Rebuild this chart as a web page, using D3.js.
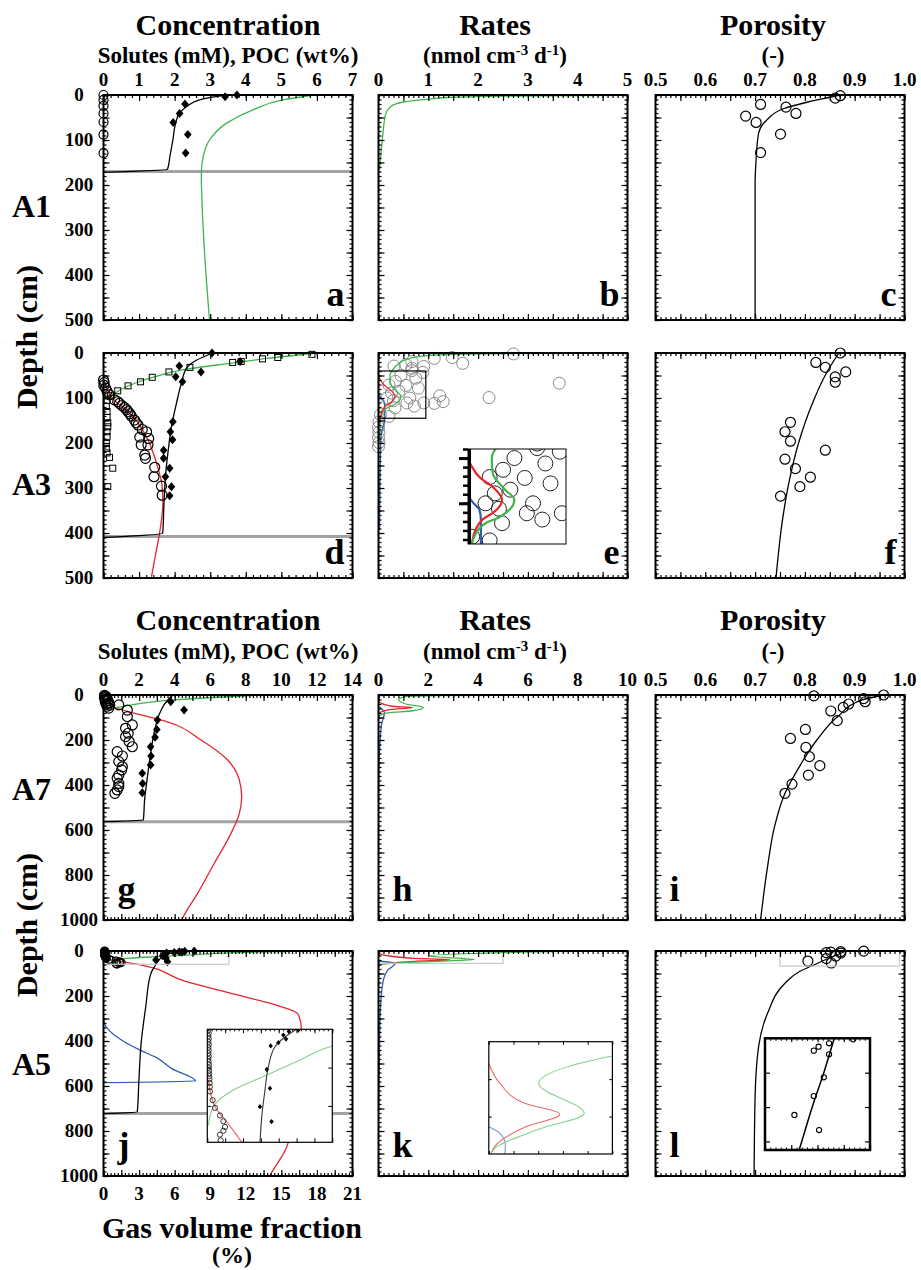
<!DOCTYPE html>
<html>
<head>
<meta charset="utf-8">
<script src="https://cdn.jsdelivr.net/npm/d3@7"></script>
<style>
  body { margin: 0; background: #fff; }
</style>
</head>
<body>
<script>
// values, every point is [x value, depth (cm)]

// ---- tick labels ----
var concTicks7 = [0, 1, 2, 3, 4, 5, 6, 7];
var concTicks14 = [0, 2, 4, 6, 8, 10, 12, 14];
var gasTicks21 = [0, 3, 6, 9, 12, 15, 18, 21];
var ratesTicks5 = [0, 1, 2, 3, 4, 5];
var ratesTicks10 = [0, 2, 4, 6, 8, 10];
var poroTicks = [0.5, 0.6, 0.7, 0.8, 0.9, 1.0];
var depthTicks500 = [0, 100, 200, 300, 400, 500];
var depthTicks1000 = [0, 200, 400, 600, 800, 1000];

// ---- site A1 ----
var a1Circles = [[0,0],[0,11],[0,24],[0,41],[0,60],[0,88],[0,129]];
var a1Diamonds = [[3.75,0],[3.42,4],[2.29,20],[2.14,41],[1.96,61],[2.37,88],[2.31,129]];
var a1Black = [[3.45,1],[3.2,3],[2.7,11],[2.35,25],[2.14,40],[2.02,65],[1.95,100],[1.87,135],[1.8,165],[0,172]];
var a1Green = [[5.93,0],[5.04,11],[4.2,33],[3.45,63],[2.98,100],[2.8,138],[2.75,175],[2.81,308],[2.98,500]];
var a1Smtz = 170;
var a1RateGreen = [[5,0.5],[2.5,2.5],[1.5,5],[1.02,9],[0.52,15],[0.24,26],[0.14,44],[0.09,85],[0.05,129],[0.02,167]];
var a1PoroLine = [[0.87,0],[0.85,5],[0.808,15],[0.758,30],[0.723,56],[0.707,85],[0.702,144],[0.7,200],[0.7,500]];
var a1PoroCircles = [[0.871,1.5],[0.861,7],[0.711,21],[0.762,27],[0.782,41],[0.681,47],[0.702,61],[0.751,87],[0.711,128]];

// ---- site A3 ----
var a3Squares = [[5.86,3],[4.9,10],[4.47,13],[3.87,19],[3.63,21],[2.43,32],[1.84,42],[1.37,54],[1.04,64],[0.69,73],
  [0.4,84],[0.2,95],[0.1,105],[0.08,119],[0.1,130],[0.1,143],[0.12,155],[0.12,164],[0.1,175],[0.1,186],[0.08,201],
  [0.08,212],[0.1,222],[0.17,232],[0.26,256],[0.12,297]];
var a3Circles = [[0,60],[0.02,66],[0.01,72],[0.06,78],[0.1,85],[0.17,93],[0.31,104],[0.4,108],[0.45,112],[0.52,117],
  [0.59,121],[0.65,126],[0.69,130],[0.74,135],[0.78,140],[0.87,149],[0.92,155],[0.97,160],[1.09,170],[1.21,175],
  [1.02,187],[1.27,190],[1.06,204],[1.25,204],[1.16,227],[1.18,234],[1.44,254],[1.42,275],[1.63,296],[1.65,316]];
var a3Diamonds = [[3.05,0],[3.84,19],[2.13,29],[2.74,42],[2.03,53],[2.22,64],[1.95,153],[1.88,175],[1.94,193],
  [1.69,216],[1.69,234],[1.86,256],[1.74,275],[1.91,297],[1.86,317]];
var a3Black = [[3.08,0],[2.61,16],[2.33,34],[2.19,67],[2.05,112],[1.91,164],[1.82,216],[1.75,267],[1.7,334],[1.67,393],[1.66,401],[0,410]];
var a3Red = [[0,60],[0.26,101],[0.83,141],[1.25,193],[1.49,245],[1.65,297],[1.67,334],[1.63,371],[1.56,408],[1.47,445],[1.35,497]];
var a3Green = [[6.0,0],[4.59,12],[3.65,22],[2.33,36],[1.3,56],[0.64,75],[0.17,97],[0.03,104]];
var a3Smtz = 408;
var a3RateCircles = [[0.31,29],[0.67,19],[1.12,12],[1.48,10],[1.69,23],[2.71,2],[3.63,67],[2.22,99],[1.23,95],
  [1.12,112],[1.3,108],[0.67,34],[0.91,30],[0.55,26],
  [0.45,50],[0.75,56],[0.89,43],[0.67,39],[0.34,63],[0.21,71],[0.41,85],[0.26,89],[0.17,100],[0.63,100],
  [0.57,111],[0.72,118],[0.91,111],[0.33,122],[0.21,141],[0.04,137],[0.8,78],[0.55,72],[0.3,106],
  [0.01,153],[0,165],[0.01,176],[0,188],[0.01,199],[0,208]];
var a3RateGreen = [[5,0.3],[2.7,1.5],[1.23,4],[0.75,9],[0.52,16],[0.38,26],[0.3,35],[0.23,50],[0.24,67],[0.36,85],
  [0.45,96],[0.31,115],[0.17,122],[0.07,135],[0.04,144],[0.03,171],[0.01,200]];
var a3RateRed = [[0,52],[0.04,60],[0.11,71],[0.24,82],[0.33,96],[0.26,109],[0.14,118],[0.07,130],[0.04,143],[0.01,160]];
var a3RateBlue = [[0,92],[0.055,100],[0.11,107],[0.125,118],[0.125,144],[0.05,186],[0.03,282],[0.02,393]];
var a3PoroLine = [[0.868,0],[0.843,45],[0.815,112],[0.787,201],[0.769,282],[0.755,371],[0.742,500]];
var a3PoroCircles = [[0.871,0],[0.822,21],[0.841,32],[0.882,42],[0.861,53],[0.861,65],[0.771,154],[0.76,175],
  [0.771,196],[0.841,216],[0.76,236],[0.781,257],[0.811,276],[0.79,297],[0.751,318]];

// ---- site A7 ----
var a7Circles = [[0.05,2],[0.1,5],[0.15,8],[0.05,12],[0.2,15],[0.1,20],[0.25,25],[0.1,30],[0.3,35],[0.15,40],
  [0.35,45],[0.2,50],[0.3,58],[0.86,44],[1.34,67],[1.34,96],[1.62,133],[1.24,148],[1.39,170],[1.24,185],
  [1.44,207],[1.62,230],[0.77,252],[1.06,271],[0.86,296],[1.06,319],[1.02,333],[0.86,356],[0.77,370],
  [0.86,393],[0.86,407],[0.77,422],[0.64,437]];
var a7Diamonds = [[3.78,30],[4.53,67],[3.03,111],[3.0,153],[2.9,188],[2.65,230],[2.67,271],[2.65,311],[2.18,348],[2.2,393],[2.18,434]];
var a7Black = [[3.88,0],[3.4,44],[3.12,89],[2.84,170],[2.65,259],[2.47,363],[2.31,467],[2.24,556],[0,563]];
var a7Red = [[0,40],[1.71,81],[3.59,119],[5.48,200],[6.98,289],[7.64,378],[7.77,452],[7.64,526],[7.17,615],[6.23,748],[5.29,882],[4.44,993],[4.4,1000]];
var a7Green = [[8.86,0],[3.97,22],[0.4,59],[0.1,62]];
var a7Smtz = 563;
var a7RateGreen = [[10,0.3],[2.5,3],[1.09,7],[0.81,19],[1.09,40],[1.8,55],[1.37,70],[0.39,79],[0.07,89],[0,100]];
var a7RateRed = [[0,30],[0.53,50],[1.37,56],[0.53,64],[0,81]];
var a7RateBlue = [[0,50],[0.24,79],[0.13,126],[0.07,200],[0.02,319],[0,467]];
var a7PoroLine = [[0.958,0],[0.915,22],[0.866,96],[0.824,200],[0.789,318],[0.76,437],[0.739,585],[0.725,763],[0.711,1000]];
var a7PoroCircles = [[0.818,4],[0.958,0],[0.918,16],[0.921,30],[0.888,40],[0.877,55],[0.852,71],[0.865,114],
  [0.801,153],[0.771,193],[0.802,233],[0.809,274],[0.83,314],[0.807,356],[0.774,396],[0.76,437]];

// ---- site A5 ----
var a5Circles = [[0.06,0.5],[0.08,2],[0.06,3.5],[0.08,5],[0.06,6.5],[0.08,8],[0.06,9.5],[0.08,11],[0.06,12.5],
  [0.08,14],[0.06,15.5],[0.08,17],[0.09,18.5],[0.08,20],[0.1,21.5],[0.1,23],[0.11,24.5],[0.12,26],[0.13,28],
  [0.14,30],[0.15,32.5],[0.3,37],[0.43,41],[0.71,45],[0.9,48],[0.99,51],[0.9,53],[0.71,55],[0.75,58]];
var a5Diamonds = [[5.1,0.4],[4.57,1.2],[4.26,3.0],[4.41,5.1],[3.98,7.0],[3.55,8.7],[3.33,20.9],[3.51,30.8],[2.95,40.4],[3.6,48.2]];
var a5Black = [[5.0,0],[4.37,3.9],[3.79,9.1],[3.42,19.5],[3.23,31.7],[3.05,45.6],[2.95,59],[2.65,103],[2.37,251],[2.13,398],[1.99,575],[1.9,715],[0,723]];
var a5Green = [[13.5,0.2],[10,3],[7.0,8.7],[5.19,16],[3.33,23.9],[1.46,31.7],[0.34,40.4],[0.06,50]];
var a5Red = [[0.06,26.5],[0.43,40.4],[1.08,48.2],[1.93,59],[4.53,133],[7.36,192],[9.81,243],[10.93,280],[11.12,339],[10.37,855],[9.43,988],[9.35,1000]];
var a5Gas = [[0,302],[0.15,330],[3.13,442],[4.4,472],[5.76,523],[7.78,578],[0,585]];
var a5Smtz = 722;
var a5RateGreen = [[10,0.3],[7,3],[5,7.6],[2.02,22.3],[3.86,38.3],[2.02,46.8],[0.24,57],[0.1,59.7],[0,70]];
var a5RateRed = [[0,11.5],[0.45,22.3],[1.45,32.9],[2.87,38.7],[1.45,45.7],[0.1,59.3],[0,70]];
var a5RateBlue = [[0,45.5],[0.45,49],[0.67,55],[0.6,65],[0.38,84],[0.17,143],[0.07,276],[0.03,497],[0.01,700]];
var a5PoroLine = [[0.882,0],[0.862,20],[0.84,40],[0.82,60],[0.79,90],[0.76,143],[0.725,277],[0.707,425],[0.7,647],[0.698,1000]];
var a5PoroCircles = [[0.918,0.6],[0.872,2.9],[0.852,4.9],[0.843,7.2],[0.872,9.3],[0.862,22.7],[0.843,33.6],[0.806,44.6],[0.853,53.4]];

// ---------------------------------------------------------------
var FONT = "'Liberation Serif', 'Times New Roman', serif";
var GREEN = "#3db54a", RED = "#e4262c", BLUE = "#2e5db0", GREY = "#a3a3a3";
var LGREEN = "#86d08a", LRED = "#ee6a6a", LBLUE = "#7b9be0";

var W = 249, H = 225;
var colX = [103.5, 378.5, 655.5];
var rowY = [95, 353, 695, 951];

var svg = d3.select("body").append("svg")
    .attr("width", 921).attr("height", 1270)
    .style("font-family", FONT).style("font-weight", "bold");

// evenly spaced tick positions
function steps(lo, hi, step) {
  return d3.range(0, Math.round((hi - lo) / step) + 1).map(function (i) { return lo + i * step; });
}

function tickSet(g, axis, scale, values, len, tr, sw) {
  g.append("g").attr("transform", "translate(" + tr + ")")
    .call(axis(scale).tickValues(values).tickSize(-len).tickFormat(""))
    .call(function (s) { s.select(".domain").remove(); })
    .selectAll("line").attr("stroke", "#000").attr("stroke-width", sw || 1.2);
}

function panel(col, row, xDom, yDom, xStep, yStep) {
  var x = d3.scaleLinear().domain(xDom).range([colX[col], colX[col] + W]);
  var y = d3.scaleLinear().domain(yDom).range([rowY[row], rowY[row] + H]);
  return { g: svg.append("g"), x: x, y: y, xStep: xStep, yStep: yStep };
}

// frame with inward major + minor ticks on all four sides
function finish(p) {
  var xr = p.x.range(), yr = p.y.range(), xd = p.x.domain(), yd = p.y.domain();
  var f = p.g.append("g");
  var xMaj = steps(xd[0], xd[1], p.xStep[0]), xMin = steps(xd[0], xd[1], p.xStep[1]);
  var yMaj = steps(yd[0], yd[1], p.yStep[0]), yMin = steps(yd[0], yd[1], p.yStep[1]);
  [[xMin, 3], [xMaj, 6]].forEach(function (t) {
    tickSet(f, d3.axisTop, p.x, t[0], t[1], "0," + yr[0]);
    tickSet(f, d3.axisBottom, p.x, t[0], t[1], "0," + yr[1]);
  });
  [[yMin, 3], [yMaj, 6]].forEach(function (t) {
    tickSet(f, d3.axisLeft, p.y, t[0], t[1], xr[0] + ",0");
    tickSet(f, d3.axisRight, p.y, t[0], t[1], xr[1] + ",0");
  });
  f.append("rect").attr("x", xr[0]).attr("y", yr[0])
    .attr("width", xr[1] - xr[0]).attr("height", yr[1] - yr[0])
    .attr("fill", "none").attr("stroke", "#000").attr("stroke-width", 2);
}

function topLabels(p, vals, fmt) {
  p.g.append("g").selectAll("text").data(vals).join("text")
    .attr("x", function (d) { return p.x(d); })
    .attr("y", p.y.range()[0] - 9)
    .attr("text-anchor", "middle").attr("font-size", 19)
    .text(fmt || function (d) { return d; });
}

function leftLabels(p, vals) {
  p.g.append("g").selectAll("text").data(vals).join("text")
    .attr("x", 79).attr("y", function (d) { return p.y(d) + 6; })
    .attr("text-anchor", "middle").attr("font-size", 19)
    .text(function (d) { return d; });
}

function letter(p, txt, where) {
  var xr = p.x.range(), yr = p.y.range();
  p.g.append("text")
    .attr("x", where === "right" ? xr[1] - 8 : xr[0] + 14)
    .attr("y", yr[1] - (where === "right" ? 14 : 19))
    .attr("text-anchor", where === "right" ? "end" : "start")
    .attr("font-size", 36).text(txt);
}

function line(g, x, y, data, color, w) {
  g.append("path").datum(data)
    .attr("fill", "none").attr("stroke", color).attr("stroke-width", w || 1.3)
    .attr("d", d3.line().x(function (d) { return x(d[0]); }).y(function (d) { return y(d[1]); })
      .curve(d3.curveMonotoneY));
}

function smtz(p, depth) {
  var xd = p.x.domain();
  p.g.append("line")
    .attr("x1", p.x(xd[0])).attr("x2", p.x(xd[1]))
    .attr("y1", p.y(depth)).attr("y2", p.y(depth))
    .attr("stroke", GREY).attr("stroke-width", 3);
}

function circles(g, x, y, data, r, color, w) {
  g.append("g").selectAll("circle").data(data).join("circle")
    .attr("cx", function (d) { return x(d[0]); })
    .attr("cy", function (d) { return y(d[1]); })
    .attr("r", r).attr("fill", "none")
    .attr("stroke", color || "#000").attr("stroke-width", w || 1.2);
}

function diamonds(g, x, y, data, s) {
  g.append("g").selectAll("path").data(data).join("path")
    .attr("transform", function (d) { return "translate(" + x(d[0]) + "," + y(d[1]) + ")"; })
    .attr("d", "M0," + (-s) + "L" + (s * 0.85) + ",0L0," + s + "L" + (-s * 0.85) + ",0Z")
    .attr("fill", "#000");
}

function squares(g, x, y, data, s) {
  g.append("g").selectAll("rect").data(data).join("rect")
    .attr("x", function (d) { return x(d[0]) - s / 2; })
    .attr("y", function (d) { return y(d[1]) - s / 2; })
    .attr("width", s).attr("height", s)
    .attr("fill", "none").attr("stroke", "#000").attr("stroke-width", 1);
}

function zoomRect(p, xs, ds, color) {
  p.g.append("rect")
    .attr("x", p.x(xs[0])).attr("y", p.y(ds[0]))
    .attr("width", p.x(xs[1]) - p.x(xs[0])).attr("height", p.y(ds[1]) - p.y(ds[0]))
    .attr("fill", "none").attr("stroke", color).attr("stroke-width", 1.2);
}

// magnified view drawn in its own box
function inset(id, box, xDom, yDom) {
  var x = d3.scaleLinear().domain(xDom).range([box[0], box[2]]);
  var y = d3.scaleLinear().domain(yDom).range([box[1], box[3]]);
  var g = svg.append("g");
  g.append("clipPath").attr("id", id).append("rect")
    .attr("x", box[0]).attr("y", box[1]).attr("width", box[2] - box[0]).attr("height", box[3] - box[1]);
  g.append("rect").attr("x", box[0]).attr("y", box[1])
    .attr("width", box[2] - box[0]).attr("height", box[3] - box[1]).attr("fill", "#fff");
  var c = g.append("g").attr("clip-path", "url(#" + id + ")");
  return { g: g, c: c, x: x, y: y, box: box };
}

function insetFrame(n, sw) {
  var b = n.box;
  n.g.append("rect").attr("x", b[0]).attr("y", b[1])
    .attr("width", b[2] - b[0]).attr("height", b[3] - b[1])
    .attr("fill", "none").attr("stroke", "#000").attr("stroke-width", sw);
}

// ================= titles =================
function title(x, y, txt, size) {
  return svg.append("text").attr("x", x).attr("y", y)
    .attr("text-anchor", "middle").attr("font-size", size).text(txt);
}
function ratesUnit(x, y) {
  var t = svg.append("text").attr("x", x).attr("y", y).attr("text-anchor", "middle").attr("font-size", 23);
  t.append("tspan").text("(nmol cm");
  t.append("tspan").attr("dy", -8).attr("font-size", 15).text("-3");
  t.append("tspan").attr("dy", 8).text(" d");
  t.append("tspan").attr("dy", -8).attr("font-size", 15).text("-1");
  t.append("tspan").attr("dy", 8).text(")");
}
[[35, 63], [630, 659]].forEach(function (r) {
  title(228, r[0], "Concentration", 30);
  title(228, r[1], "Solutes (mM), POC (wt%)", 23);
  title(495, r[0], "Rates", 30);
  ratesUnit(495, r[1]);
  title(773, r[0], "Porosity", 30);
  title(773, r[1], "(-)", 23);
});

[["A1", 217], ["A3", 495], ["A7", 800], ["A5", 1075]].forEach(function (r) {
  svg.append("text").attr("x", 12).attr("y", r[1]).attr("font-size", 32).text(r[0]);
});
[337, 925].forEach(function (cy) {
  svg.append("text").attr("transform", "translate(37," + cy + ") rotate(-90)")
    .attr("text-anchor", "middle").attr("font-size", 30).text("Depth (cm)");
});
title(232, 1238, "Gas volume fraction", 30);
title(232, 1263, "(%)", 24);

// ================= A1 =================
var pa = panel(0, 0, [0, 7], [0, 500], [1, 0.2], [50, 10]);
smtz(pa, a1Smtz);
line(pa.g, pa.x, pa.y, a1Green, GREEN);
line(pa.g, pa.x, pa.y, a1Black, "#000");
circles(pa.g, pa.x, pa.y, a1Circles, 4.5);
diamonds(pa.g, pa.x, pa.y, a1Diamonds, 4.5);
finish(pa);
topLabels(pa, concTicks7);
leftLabels(pa, depthTicks500);
letter(pa, "a", "right");

var pb = panel(1, 0, [0, 5], [0, 500], [0.5, 0.1], [50, 10]);
line(pb.g, pb.x, pb.y, a1RateGreen, GREEN);
finish(pb);
topLabels(pb, ratesTicks5);
letter(pb, "b", "right");

var pc = panel(2, 0, [0.5, 1.0], [0, 500], [0.05, 0.01], [50, 10]);
line(pc.g, pc.x, pc.y, a1PoroLine, "#000");
circles(pc.g, pc.x, pc.y, a1PoroCircles, 5);
finish(pc);
topLabels(pc, poroTicks, d3.format(".1f"));
letter(pc, "c", "right");

// ================= A3 =================
var pd = panel(0, 1, [0, 7], [0, 500], [1, 0.2], [50, 10]);
smtz(pd, a3Smtz);
line(pd.g, pd.x, pd.y, a3Green, GREEN);
line(pd.g, pd.x, pd.y, a3Red, RED);
line(pd.g, pd.x, pd.y, a3Black, "#000");
squares(pd.g, pd.x, pd.y, a3Squares, 6);
circles(pd.g, pd.x, pd.y, a3Circles, 5);
diamonds(pd.g, pd.x, pd.y, a3Diamonds, 4.5);
finish(pd);
leftLabels(pd, depthTicks500);
letter(pd, "d", "right");

var pe = panel(1, 1, [0, 5], [0, 500], [0.5, 0.1], [50, 10]);
circles(pe.g, pe.x, pe.y, a3RateCircles, 6, "#8a8a8a", 1);
line(pe.g, pe.x, pe.y, a3RateBlue, BLUE);
line(pe.g, pe.x, pe.y, a3RateGreen, GREEN);
line(pe.g, pe.x, pe.y, a3RateRed, RED);
zoomRect(pe, [0, 0.95], [40, 145], "#000");
var ie = inset("clipE", [468, 449, 566, 544], [0, 0.95], [40, 145]);
circles(ie.c, ie.x, ie.y, a3RateCircles, 7.5, "#222", 1);
line(ie.c, ie.x, ie.y, a3RateBlue, BLUE, 2.2);
line(ie.c, ie.x, ie.y, a3RateRed, RED, 2.2);
line(ie.c, ie.x, ie.y, a3RateGreen, GREEN, 2.2);
insetFrame(ie, 1);
ie.g.append("line").attr("x1", 469.5).attr("x2", 469.5).attr("y1", 449).attr("y2", 544)
  .attr("stroke", "#000").attr("stroke-width", 3);
tickSet(ie.g, d3.axisRight, ie.y, steps(40, 140, 10), 5, "468,0", 2.5);
tickSet(ie.g, d3.axisRight, ie.y, [50, 100], 9, "468,0", 3);
finish(pe);
letter(pe, "e", "right");

var pf = panel(2, 1, [0.5, 1.0], [0, 500], [0.05, 0.01], [50, 10]);
line(pf.g, pf.x, pf.y, a3PoroLine, "#000");
circles(pf.g, pf.x, pf.y, a3PoroCircles, 5);
finish(pf);
letter(pf, "f", "right");

// ================= A7 =================
var pg = panel(0, 2, [0, 14], [0, 1000], [1, 0.2], [100, 20]);
smtz(pg, a7Smtz);
line(pg.g, pg.x, pg.y, a7Red, RED);
line(pg.g, pg.x, pg.y, a7Green, GREEN);
line(pg.g, pg.x, pg.y, a7Black, "#000");
circles(pg.g, pg.x, pg.y, a7Circles, 5);
diamonds(pg.g, pg.x, pg.y, a7Diamonds, 4.5);
finish(pg);
topLabels(pg, concTicks14);
leftLabels(pg, depthTicks1000);
letter(pg, "g", "left");

var ph = panel(1, 2, [0, 10], [0, 1000], [1, 0.2], [100, 20]);
line(ph.g, ph.x, ph.y, a7RateBlue, BLUE);
line(ph.g, ph.x, ph.y, a7RateRed, RED);
line(ph.g, ph.x, ph.y, a7RateGreen, GREEN);
finish(ph);
topLabels(ph, ratesTicks10);
letter(ph, "h", "left");

var pi = panel(2, 2, [0.5, 1.0], [0, 1000], [0.05, 0.01], [100, 20]);
line(pi.g, pi.x, pi.y, a7PoroLine, "#000");
circles(pi.g, pi.x, pi.y, a7PoroCircles, 5);
finish(pi);
topLabels(pi, poroTicks, d3.format(".1f"));
letter(pi, "i", "left");

// ================= A5 =================
var pj = panel(0, 3, [0, 14], [0, 1000], [1, 0.2], [100, 20]);
var xGas = d3.scaleLinear().domain([0, 21]).range(pj.x.range());
smtz(pj, a5Smtz);
line(pj.g, pj.x, pj.y, a5Red, RED);
line(pj.g, xGas, pj.y, a5Gas, BLUE);
line(pj.g, pj.x, pj.y, a5Green, GREEN);
line(pj.g, pj.x, pj.y, a5Black, "#000");
circles(pj.g, pj.x, pj.y, a5Circles, 4);
diamonds(pj.g, pj.x, pj.y, a5Diamonds, 4.5);
zoomRect(pj, [0, 7.05], [0, 59], "#c8c8c8");
var ij = inset("clipJ", [207.3, 1029.3, 332.3, 1142.3], [0, 7], [0, 59]);
line(ij.c, ij.x, ij.y, a5Green, LGREEN, 1.2);
line(ij.c, ij.x, ij.y, a5Red, LRED, 1.2);
line(ij.c, ij.x, ij.y, a5Black, "#333", 1.1);
circles(ij.c, ij.x, ij.y, a5Circles, 2.6, "#222", 0.9);
diamonds(ij.c, ij.x, ij.y, a5Diamonds, 2.6);
insetFrame(ij, 1.2);
tickSet(ij.g, d3.axisTop, ij.x, steps(0, 7, 0.25), 2, "0,1029.3", 1);
tickSet(ij.g, d3.axisTop, ij.x, steps(0, 7, 1), 4, "0,1029.3", 1);
tickSet(ij.g, d3.axisBottom, ij.x, steps(0, 7, 1), 4, "0,1142.3", 1);
tickSet(ij.g, d3.axisRight, ij.y, [20, 40], 4, "332.3,0", 1);
tickSet(ij.g, d3.axisLeft, ij.y, [20, 40], 4, "207.3,0", 1);
finish(pj);
pj.g.append("g").selectAll("text").data(gasTicks21).join("text")
  .attr("x", function (d) { return xGas(d); }).attr("y", 1200)
  .attr("text-anchor", "middle").attr("font-size", 19).text(function (d) { return d; });
leftLabels(pj, depthTicks1000);
letter(pj, "j", "left");

var pk = panel(1, 3, [0, 10], [0, 1000], [1, 0.2], [100, 20]);
line(pk.g, pk.x, pk.y, a5RateBlue, BLUE);
line(pk.g, pk.x, pk.y, a5RateRed, RED);
line(pk.g, pk.x, pk.y, a5RateGreen, GREEN);
zoomRect(pk, [0, 5], [0, 55], "#c8c8c8");
var ik = inset("clipK", [488.8, 1041.7, 612.4, 1154], [0, 5], [0, 60]);
line(ik.c, ik.x, ik.y, a5RateBlue, LBLUE, 1.1);
line(ik.c, ik.x, ik.y, a5RateRed, LRED, 1.1);
line(ik.c, ik.x, ik.y, a5RateGreen, LGREEN, 1.1);
insetFrame(ik, 1.2);
tickSet(ik.g, d3.axisTop, ik.x, steps(0, 5, 1), 3, "0,1041.7", 1);
tickSet(ik.g, d3.axisBottom, ik.x, steps(0, 5, 1), 3, "0,1154", 1);
tickSet(ik.g, d3.axisLeft, ik.y, [20, 40], 3, "488.8,0", 1);
tickSet(ik.g, d3.axisRight, ik.y, [20, 40], 3, "612.4,0", 1);
finish(pk);
letter(pk, "k", "left");

var pl = panel(2, 3, [0.5, 1.0], [0, 1000], [0.05, 0.01], [100, 20]);
line(pl.g, pl.x, pl.y, a5PoroLine, "#000");
circles(pl.g, pl.x, pl.y, a5PoroCircles, 5);
zoomRect(pl, [0.75, 0.99], [0, 67], "#c8c8c8");
var il = inset("clipL", [765, 1038.3, 870, 1150], [0.75, 0.95], [0, 65]);
line(il.c, il.x, il.y, a5PoroLine, "#000", 1.5);
circles(il.c, il.x, il.y, a5PoroCircles, 2.6, "#000", 1.1);
insetFrame(il, 2.5);
tickSet(il.g, d3.axisTop, il.x, steps(0.75, 0.95, 0.01), 2.5, "0,1038.3", 1);
tickSet(il.g, d3.axisTop, il.x, steps(0.75, 0.95, 0.05), 4, "0,1038.3", 1);
tickSet(il.g, d3.axisBottom, il.x, steps(0.75, 0.95, 0.01), 2.5, "0,1150", 1);
tickSet(il.g, d3.axisBottom, il.x, steps(0.75, 0.95, 0.05), 5, "0,1150", 1.2);
tickSet(il.g, d3.axisLeft, il.y, [20, 40, 60], 5, "765,0", 1.2);
tickSet(il.g, d3.axisRight, il.y, [20, 40, 60], 5, "870,0", 1.2);
finish(pl);
letter(pl, "l", "left");
</script>
</body>
</html>
